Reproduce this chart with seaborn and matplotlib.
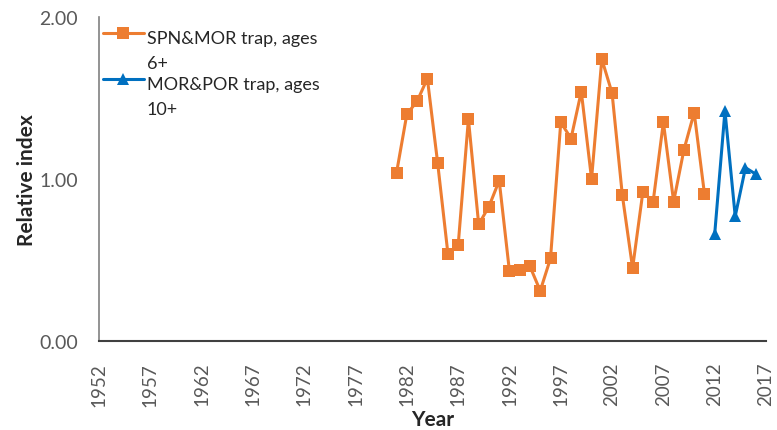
import matplotlib
matplotlib.use("Agg")
import matplotlib.pyplot as plt
import seaborn as sns
import pandas as pd
from matplotlib.legend_handler import HandlerLine2D

years_spn = list(range(1981, 2012))
spn_mor = [1.04, 1.40, 1.48, 1.62, 1.10, 0.54, 0.59, 1.37, 0.72, 0.83,
           0.99, 0.43, 0.44, 0.46, 0.31, 0.51, 1.35, 1.25, 1.54, 1.00,
           1.74, 1.53, 0.90, 0.45, 0.92, 0.86, 1.35, 0.86, 1.18, 1.41, 0.91]
years_mor = [2012, 2013, 2014, 2015, 2016]
mor_por = [0.66, 1.42, 0.77, 1.07, 1.03]
series_names = ["SPN&MOR trap, ages\n6+", "MOR&POR trap, ages\n10+"]
x_ticks = list(range(1952, 2018, 5))
y_ticks = [0.0, 1.0, 2.0]

df = pd.concat([
    pd.DataFrame({"Year": years_spn, "Index": spn_mor, "Series": series_names[0]}),
    pd.DataFrame({"Year": years_mor, "Index": mor_por, "Series": series_names[1]}),
])

sns.set_style("white")
plt.rcParams['font.family'] = ['Lato', 'DejaVu Sans']

fig = plt.figure(figsize=(7.77, 4.31), dpi=100)
ax = fig.add_axes([99/777, 1-342/431, (766-99)/777, (342-18)/431])

palette = {series_names[0]: "#ED7D31", series_names[1]: "#0070C0"}
markers = {series_names[0]: "s", series_names[1]: "^"}
sns.lineplot(data=df, x="Year", y="Index", hue="Series", style="Series",
             palette=palette, markers=markers, dashes=False, markersize=8,
             markeredgewidth=0, linewidth=2.2, ax=ax)

ax.set_xlim(1952, 2017)
ax.set_ylim(0, 2.0)
ax.set_xticks(x_ticks)
ax.set_xticklabels([str(t) for t in x_ticks], rotation=90, color="#595959", fontsize=13.5)
ax.set_yticks(y_ticks)
ax.set_yticklabels([f"{t:.2f}" for t in y_ticks], color="#595959", fontsize=14)
ax.tick_params(axis="x", direction="inout", length=10, width=1.2, color="#404040", pad=10)
ax.tick_params(axis="y", direction="out", length=5, width=1, color="#808080", pad=10)

for s in ["top", "right"]:
    ax.spines[s].set_visible(False)
ax.spines["left"].set_color("#808080")
ax.spines["left"].set_linewidth(1.2)
ax.spines["bottom"].set_color("#404040")
ax.spines["bottom"].set_linewidth(1.5)

ax.set_xlabel("Year", fontsize=15, fontweight="bold")
ax.xaxis.set_label_coords(0.5, -0.21)
ax.set_ylabel("Relative index", fontsize=15, fontweight="bold")
ax.yaxis.set_label_coords(-0.093, 0.5)


class TopHandler(HandlerLine2D):
    def create_artists(self, legend, orig_handle, xdescent, ydescent,
                       width, height, fontsize, trans):
        return super().create_artists(legend, orig_handle, xdescent, ydescent,
                                      width, height * 3.8, fontsize, trans)


handles, labels = ax.get_legend_handles_labels()
leg = ax.legend(handles, labels, loc="upper left", bbox_to_anchor=(0.0, 0.972),
                frameon=False, fontsize=13, handlelength=2.3, handletextpad=0.15,
                labelspacing=0.3, borderaxespad=0.0, borderpad=0.2,
                handler_map={h: TopHandler() for h in handles})
for t in leg.get_texts():
    t.set_linespacing(1.7)
    t.set_color("#262626")

fig.savefig("out.png", dpi=100)
